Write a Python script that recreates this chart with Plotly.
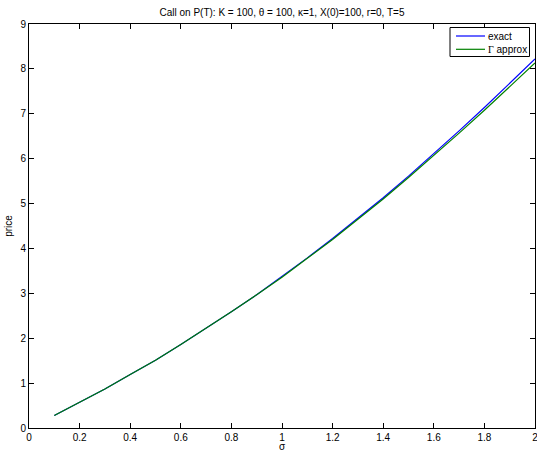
import plotly.graph_objects as go

sigma = [0.1, 0.2, 0.3, 0.4, 0.5, 0.6, 0.7, 0.8, 0.9, 1.0,
         1.1, 1.2, 1.3, 1.4, 1.5, 1.6, 1.7, 1.8, 1.9, 2.0]
exact = [0.28, 0.57, 0.87, 1.19, 1.51, 1.86, 2.22, 2.59, 2.97, 3.37,
         3.79, 4.22, 4.67, 5.13, 5.61, 6.11, 6.62, 7.14, 7.67, 8.22]
gamma_approx = [0.28, 0.57, 0.87, 1.19, 1.51, 1.86, 2.22, 2.59, 2.97, 3.36,
                3.78, 4.20, 4.65, 5.10, 5.58, 6.07, 6.57, 7.08, 7.60, 8.13]

x_ticks = [0, 0.2, 0.4, 0.6, 0.8, 1, 1.2, 1.4, 1.6, 1.8, 2]
x_tick_labels = ["0", "0.2", "0.4", "0.6", "0.8", "1", "1.2", "1.4", "1.6", "1.8", "2"]
y_ticks = [0, 1, 2, 3, 4, 5, 6, 7, 8, 9]

series_names = ["exact", "Γ approx"]
series_colors = ["rgb(0,0,255)", "rgb(0,128,0)"]

font_family = "Liberation Sans, Arial, Helvetica, sans-serif"

W, H = 537, 452
L, R, T, B = 29, 2, 24, 24
PW, PH = W - L - R, H - T - B


def px_x(px):
    return (px - L) / PW


def px_y(py):
    return (H - B - py) / PH


fig = go.Figure()
for name, color, ys in zip(series_names, series_colors, [exact, gamma_approx]):
    fig.add_trace(go.Scatter(x=sigma, y=ys, mode="lines", name=name,
                             line=dict(color=color, width=1.2)))

axis_common = dict(
    showgrid=False, zeroline=False, showline=True, linecolor="black", linewidth=1,
    mirror="ticks", ticks="inside", ticklen=5, tickcolor="black", tickwidth=1,
    tickfont=dict(family=font_family, size=10, color="black"),
    ticklabeloverflow="allow",
)

# MATLAB-style legend box drawn manually
shapes = [dict(type="rect", xref="paper", yref="paper",
               x0=px_x(450), x1=px_x(529.5), y0=px_y(56.5), y1=px_y(27.5),
               line=dict(color="black", width=1), fillcolor="white", layer="above")]
annotations = []
legend_rows = [36, 49.3]
legend_labels = ["exact",
                 "<span style='font-family:Liberation Serif, Times New Roman, serif'>Γ</span> approx"]
for row_y, label, color in zip(legend_rows, legend_labels, series_colors):
    shapes.append(dict(type="line", xref="paper", yref="paper",
                       x0=px_x(456), x1=px_x(485), y0=px_y(row_y), y1=px_y(row_y),
                       line=dict(color=color, width=1.2), layer="above"))
    annotations.append(dict(xref="paper", yref="paper", x=px_x(486.5), y=px_y(row_y),
                            xanchor="left", yanchor="middle", text=label, showarrow=False,
                            borderpad=0,
                            font=dict(family=font_family, size=10, color="black")))

fig.update_layout(
    width=W, height=H,
    margin=dict(l=L, r=R, t=T, b=B, autoexpand=False),
    paper_bgcolor="white", plot_bgcolor="white",
    font=dict(family=font_family, size=10, color="black"),
    title=dict(text="Call on P(T): K = 100, θ = 100, κ=1, X(0)=100, r=0, T=5",
               x=(L + PW / 2) / W, xanchor="center", y=1 - 12 / H, yanchor="middle",
               font=dict(family=font_family, size=10, color="black")),
    xaxis=dict(range=[0, 2], tickvals=x_ticks, ticktext=x_tick_labels,
               title=dict(text="σ", standoff=4, font=dict(size=10)),
               automargin=False, **axis_common),
    yaxis=dict(range=[0, 9], tickvals=y_ticks,
               title=dict(text="price", standoff=5, font=dict(size=10)),
               automargin=False, **axis_common),
    showlegend=False,
    shapes=shapes,
    annotations=annotations,
)

fig.write_html("out.html", config={"responsive": False, "displayModeBar": False},
               post_script="document.body.style.margin='0';document.body.style.overflow='hidden';")
